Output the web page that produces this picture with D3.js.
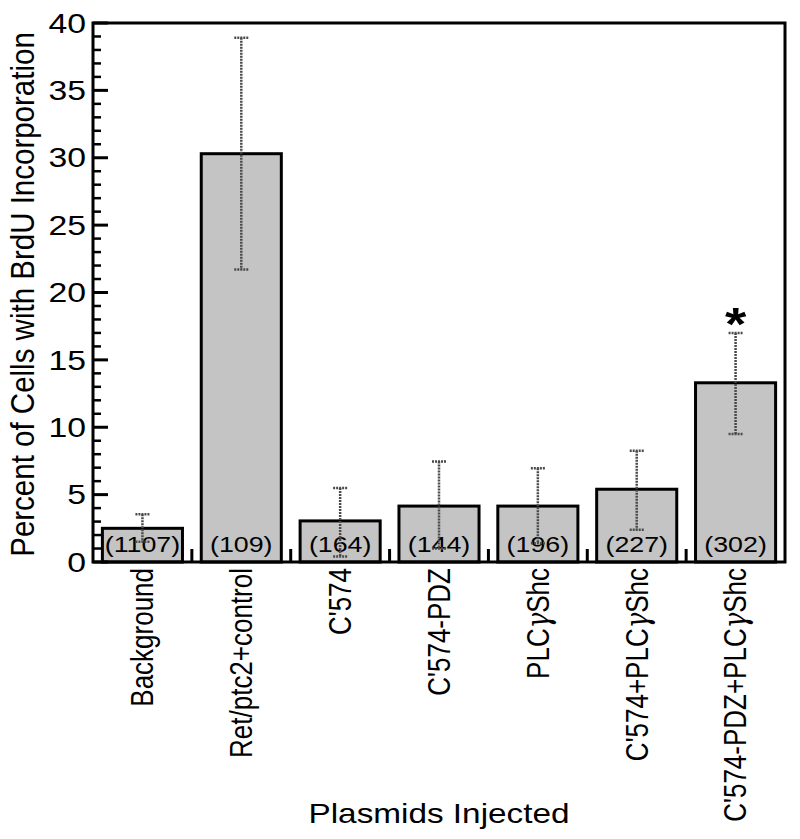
<!DOCTYPE html>
<html>
<head>
<meta charset="utf-8">
<script src="https://cdn.jsdelivr.net/npm/d3@7"></script>
<style>
  html, body { margin: 0; padding: 0; background: #fff; }
  svg { display: block; }
  text { font-family: "Liberation Sans", Arial, Helvetica, sans-serif; fill: #000; }
</style>
</head>
<body>
<svg id="chart" width="800" height="839"></svg>
<script>
// ---- data ----
const categories = ["Background", "Ret/ptc2+control", "C'574", "C'574-PDZ", "PLCγShc", "C'574+PLCγShc", "C'574-PDZ+PLCγShc"];
const values     = [2.5, 30.3, 3.05, 4.15, 4.15, 5.4, 13.3];
const errUpper   = [3.55, 38.9, 5.5, 7.45, 6.95, 8.25, 17.0];
const errLower   = [1.5, 21.7, 0.4, 1.0, 1.4, 2.4, 9.5];
const counts     = ["(1107)", "(109)", "(164)", "(144)", "(196)", "(227)", "(302)"];
const significant = [false, false, false, false, false, false, true];
const yMajorTicks = [0, 5, 10, 15, 20, 25, 30, 35, 40];
const yTitle = "Percent of Cells with BrdU Incorporation";
const xTitle = "Plasmids Injected";

// ---- layout ----
const L = 93, R = 785, T = 23, B = 562;
const SX = 1.19; // horizontal stretch of lettering in reference
const svg = d3.select("#chart");

const x = d3.scaleBand().domain(categories).range([L, R]).paddingInner(0.19).paddingOuter(0.095);
const y = d3.scaleLinear().domain([0, 40]).range([B, T]);

const rows = categories.map((c, i) => ({ c, v: values[i], hi: errUpper[i], lo: errLower[i], n: counts[i], sig: significant[i] }));

// bars
svg.append("g").selectAll("rect").data(rows).join("rect")
  .attr("x", d => x(d.c)).attr("width", x.bandwidth())
  .attr("y", d => y(d.v)).attr("height", d => y(0) - y(d.v))
  .attr("fill", "#c4c4c4").attr("stroke", "#000").attr("stroke-width", 3);

// count labels
svg.append("g").selectAll("text").data(rows).join("text")
  .attr("transform", d => `translate(${x(d.c) + x.bandwidth() / 2},552) scale(${SX},1)`)
  .attr("text-anchor", "middle").attr("font-size", 22.5)
  .text(d => d.n);

// error bars
const eb = svg.append("g").attr("stroke", "#4a4a4a").attr("stroke-width", 2.5).attr("stroke-dasharray", "2,1");
const cx = d => x(d.c) + x.bandwidth() / 2;
eb.selectAll("line.v").data(rows).join("line").attr("class", "v")
  .attr("x1", cx).attr("x2", cx).attr("y1", d => y(d.hi)).attr("y2", d => y(d.lo));
eb.selectAll("line.t").data(rows).join("line").attr("class", "t")
  .attr("x1", d => cx(d) - 7).attr("x2", d => cx(d) + 7).attr("y1", d => y(d.hi)).attr("y2", d => y(d.hi));
eb.selectAll("line.b").data(rows).join("line").attr("class", "b")
  .attr("x1", d => cx(d) - 7).attr("x2", d => cx(d) + 7).attr("y1", d => y(d.lo)).attr("y2", d => y(d.lo));

// significance asterisk
svg.append("g").selectAll("text").data(rows.filter(d => d.sig)).join("text")
  .attr("transform", d => `translate(${cx(d)},${y(d.hi) + 7}) scale(${SX},1)`)
  .attr("text-anchor", "middle").attr("font-size", 46).attr("font-weight", "bold")
  .text("*");

// frame
svg.append("rect").attr("x", L).attr("y", T).attr("width", R - L).attr("height", B - T)
  .attr("fill", "none").attr("stroke", "#000").attr("stroke-width", 3);

// y axis: inward ticks
const yAxisG = svg.append("g").attr("transform", `translate(${L},0)`);
const minor = d3.range(0, 41, 1).filter(v => v % 5 !== 0);
yAxisG.selectAll("line.minor").data(minor).join("line")
  .attr("x1", 0).attr("x2", 8).attr("y1", d => y(d)).attr("y2", d => y(d))
  .attr("stroke", "#000").attr("stroke-width", 2.5);
yAxisG.selectAll("line.major").data(yMajorTicks).join("line")
  .attr("x1", 0).attr("x2", 15).attr("y1", d => y(d)).attr("y2", d => y(d))
  .attr("stroke", "#000").attr("stroke-width", 3);
yAxisG.selectAll("text").data(yMajorTicks).join("text")
  .attr("transform", d => `translate(-7,${y(d)}) scale(1.25,1)`)
  .attr("text-anchor", "end").attr("dy", "0.36em").attr("font-size", 27)
  .text(d => d);

// x axis: small separators between bars + rotated category labels
const seps = categories.slice(1).map(c => x(c) - x.step() * x.paddingInner() / 2);
svg.append("g").selectAll("line").data(seps).join("line")
  .attr("x1", d => d).attr("x2", d => d).attr("y1", B).attr("y2", B - 13)
  .attr("stroke", "#000").attr("stroke-width", 3);

const catText = svg.append("g").selectAll("text").data(categories).join("text")
  .attr("transform", d => `translate(${x(d) + x.bandwidth() / 2},568) scale(${SX},1) rotate(-90)`)
  .attr("text-anchor", "end").attr("dy", "0.35em").attr("font-size", 26);
// render gamma with a Symbol-like glyph
catText.each(function (d) {
  const parts = d.split(/(γ)/);
  const t = d3.select(this);
  parts.filter(p => p.length).forEach(p => {
    const s = t.append("tspan").text(p);
    if (p === "γ") s.attr("font-family", "DejaVu Serif").attr("font-style", "italic");
  });
});

// axis titles
svg.append("text")
  .attr("transform", `translate(34,${(T + B) / 2 + 2}) scale(1.12,1) rotate(-90)`)
  .attr("text-anchor", "middle").attr("font-size", 29.5)
  .text(yTitle);
svg.append("text")
  .attr("transform", `translate(${(L + R) / 2},823) scale(${SX},1)`)
  .attr("text-anchor", "middle").attr("font-size", 28)
  .text(xTitle);
</script>
</body>
</html>
